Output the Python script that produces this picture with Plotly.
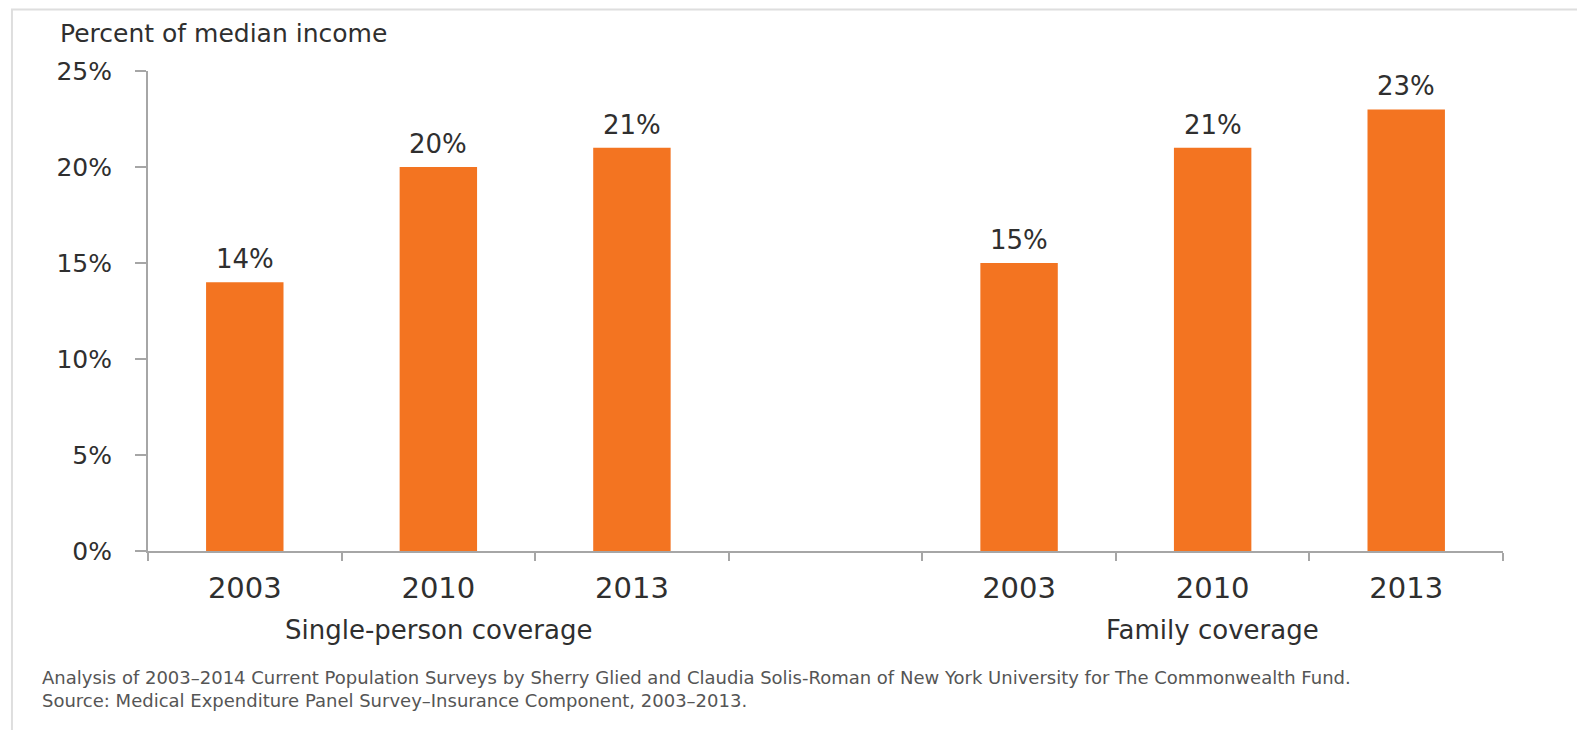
import plotly.graph_objects as go

# ---- data ----
groups = ["Single-person coverage", "Family coverage"]
years = ["2003", "2010", "2013"]
single_values = [14, 20, 21]
family_values = [15, 21, 23]
y_ticks = [0, 5, 10, 15, 20, 25]
y_tick_labels = [f"{v}%" for v in y_ticks]
y_title = "Percent of median income"
footnote_1 = ("Analysis of 2003\u20132014 Current Population Surveys by Sherry Glied and Claudia "
              "Solis-Roman of New York University for The Commonwealth Fund.")
footnote_2 = "Source: Medical Expenditure Panel Survey\u2013Insurance Component, 2003\u20132013."

# ---- build categories (spacer slot between groups) ----
spacer = "spacer"
cats_single = [f"{groups[0]}|{y}" for y in years]
cats_family = [f"{groups[1]}|{y}" for y in years]
category_order = cats_single + [spacer] + cats_family
tick_text = years + [""] + years

ORANGE = "#F37421"
TEXT = "#2f2f2f"
AXIS = "#a6a6a6"
MAIN_FONT = "DejaVu Sans"

fig = go.Figure()
fig.add_trace(go.Bar(
    x=cats_single + cats_family,
    y=single_values + family_values,
    marker=dict(color=ORANGE, line=dict(width=0)),
    hoverinfo="skip",
))

annotations = []
# value labels above bars
for c, v in zip(cats_single + cats_family, single_values + family_values):
    annotations.append(dict(
        x=c, y=v, xref="x", yref="y", text=f"{v}%", showarrow=False,
        yanchor="middle", yshift=23,
        font=dict(family=MAIN_FONT, size=26, color=TEXT),
    ))
# group labels under middle year
for g, cats in zip(groups, [cats_single, cats_family]):
    annotations.append(dict(
        x=cats[1], y=0, xref="x", yref="paper", text=g, showarrow=False,
        yanchor="middle", yshift=-79,
        font=dict(family=MAIN_FONT, size=26, color=TEXT),
    ))
# y-axis title
annotations.append(dict(
    x=0, y=1, xref="paper", yref="paper", xanchor="left", yanchor="middle",
    xshift=-90, yshift=38, text=y_title, showarrow=False,
    font=dict(family=MAIN_FONT, size=25, color=TEXT),
))
# footnote (two lines)
annotations.append(dict(
    x=0, y=0, xref="paper", yref="paper", xanchor="left", yanchor="middle",
    align="left", xshift=-108, yshift=-138,
    text=footnote_1 + "<br>" + footnote_2, showarrow=False,
    font=dict(family=MAIN_FONT, size=18, color="#555555"),
))

# page body has an 8px margin: figure is shifted by (8, 8) in the window
fig.update_layout(
    width=1577, height=722,
    margin=dict(l=140, r=82, t=63, b=179),
    paper_bgcolor="white", plot_bgcolor="white",
    showlegend=False,
    bargap=0.6,
    annotations=annotations,
    shapes=[dict(type="rect", xref="paper", yref="paper",
                 x0=-0.1004, x1=1.08, y0=-0.42, y1=1.128,
                 line=dict(color="#dedede", width=2), fillcolor="rgba(0,0,0,0)",
                 layer="below")],
)
fig.update_xaxes(
    type="category", categoryorder="array", categoryarray=category_order,
    tickmode="array", tickvals=category_order, ticktext=tick_text,
    tickson="boundaries", ticks="outside", ticklen=8, tickwidth=2, tickcolor=AXIS,
    showline=True, linecolor=AXIS, linewidth=2, showgrid=False, zeroline=False,
    ticklabelstandoff=10,
    tickfont=dict(family=MAIN_FONT, size=29, color=TEXT),
)
fig.update_yaxes(
    range=[0, 25], tickmode="array", tickvals=y_ticks, ticktext=y_tick_labels,
    ticks="outside", ticklen=11, tickwidth=2, tickcolor=AXIS,
    showline=True, linecolor=AXIS, linewidth=2, showgrid=False, zeroline=False,
    ticklabelstandoff=18,
    tickfont=dict(family=MAIN_FONT, size=25, color=TEXT),
)

fig.write_html("out.html")
